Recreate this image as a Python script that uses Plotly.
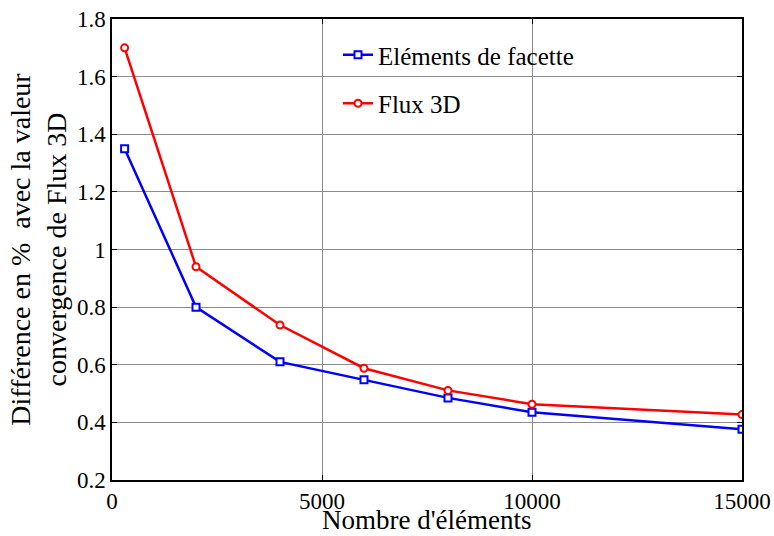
import plotly.graph_objects as go

elements = [300, 2000, 4000, 6000, 8000, 10000, 15000]
facette = [1.35, 0.80, 0.61, 0.548, 0.485, 0.435, 0.376]
flux3d = [1.70, 0.94, 0.738, 0.588, 0.511, 0.463, 0.427]

x_ticks = [0, 5000, 10000, 15000]
x_ticktext = ["0", "5000", "10000", "15000"]
y_ticks = [0.2, 0.4, 0.6, 0.8, 1.0, 1.2, 1.4, 1.6, 1.8]
y_ticktext = ["0.2", "0.4", "0.6", "0.8", "1", "1.2", "1.4", "1.6", "1.8"]

x_title = "Nombre d'éléments"
y_title = "Différence en %  avec la valeur<br>convergence de Flux 3D"

FONT = "Liberation Serif"

fig = go.Figure()
fig.add_trace(go.Scatter(
    x=elements, y=facette, mode="lines+markers", name="Eléments de facette",
    legendgroup="a",
    line=dict(color="#0000ff", width=2.5),
    marker=dict(symbol="square", size=7, color="white", line=dict(color="#0000ff", width=2)),
))
fig.add_trace(go.Scatter(
    x=elements, y=flux3d, mode="lines+markers", name="Flux 3D",
    legendgroup="b",
    line=dict(color="#ff0000", width=2.5),
    marker=dict(symbol="circle", size=7, color="white", line=dict(color="#ff0000", width=2)),
))

fig.add_shape(type="rect", xref="paper", yref="paper",
              x0=(337 - 112) / 630, x1=(640 - 112) / 630,
              y0=(480 - 125) / 461, y1=(480 - 21) / 461,
              fillcolor="white", line=dict(width=0), layer="between")

fig.add_annotation(text=x_title, xref="paper", yref="paper",
                   x=(427 - 112) / 630, y=(480 - 536) / 461,
                   xanchor="center", yanchor="bottom", showarrow=False,
                   borderpad=0, font=dict(family=FONT, size=27, color="black"))

axis_common = dict(
    showline=True, linecolor="black", linewidth=1.5, mirror="ticks",
    ticks="inside", ticklen=5, tickcolor="black",
    showgrid=True, gridcolor="#8c8c8c", gridwidth=1,
    zeroline=False, automargin=False,
    tickfont=dict(family=FONT, size=23, color="black"),
)

fig.update_layout(
    width=774, height=536,
    margin=dict(l=112, r=32, t=19, b=56),
    paper_bgcolor="white", plot_bgcolor="white",
    font=dict(family=FONT, color="black"),
    xaxis=dict(range=[0, 15000], tickvals=x_ticks, ticktext=x_ticktext, **axis_common),
    yaxis=dict(range=[0.2, 1.8], tickvals=y_ticks, ticktext=y_ticktext,
               title=dict(text=y_title, font=dict(family=FONT, size=28), standoff=2),
               **axis_common),
    legend=dict(x=(338 - 112) / 630, y=(480 - 32) / 461, xanchor="left", yanchor="top",
                bgcolor="rgba(0,0,0,0)", borderwidth=0,
                font=dict(family=FONT, size=25, color="black"),
                tracegroupgap=13, itemwidth=30),
    showlegend=True,
)

fig.write_html("out.html", post_script="document.body.style.margin='0';",
               config={"displayModeBar": False})
